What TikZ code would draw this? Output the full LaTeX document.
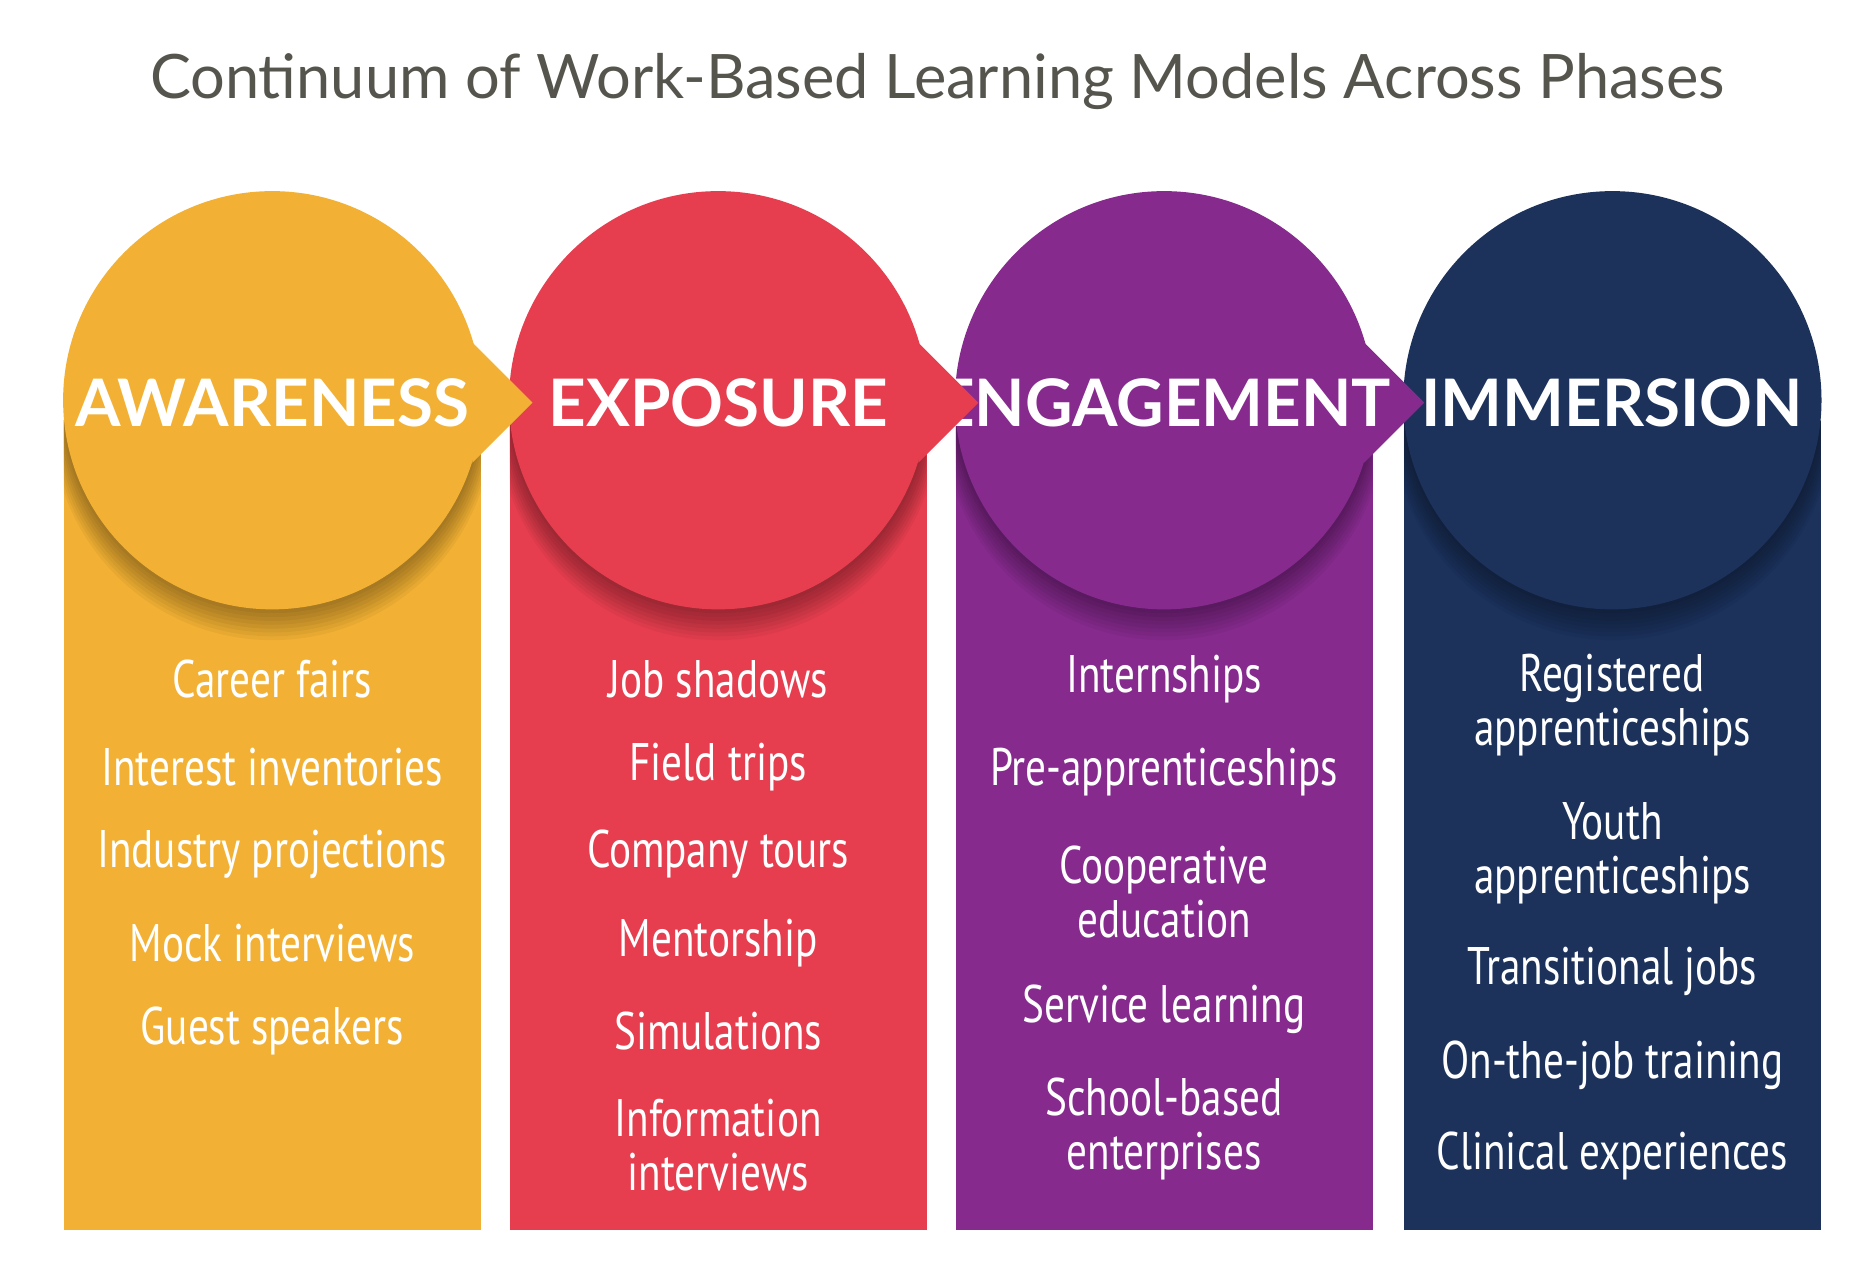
\documentclass[tikz,border=0pt]{standalone}
\usepackage{fontspec}
\setmainfont{Lato}
\newfontfamily\itemfont{PT Sans}
\definecolor{cA}{HTML}{F2B134}
\definecolor{cB}{HTML}{E63E4F}
\definecolor{cC}{HTML}{862A8E}
\definecolor{cD}{HTML}{1C325B}
\definecolor{titlec}{HTML}{55554D}
\newcommand{\narrow}[1]{\scalebox{0.78}[1]{#1}}
\tikzset{
  head/.style={text=white,font=\bfseries\fontsize{15.5}{18}\selectfont},
  itm/.style={text=white,font=\itemfont\fontsize{12.5}{12.8}\selectfont,align=center},
}
\begin{document}
\begin{tikzpicture}[x=0.01cm,y=-0.01cm]
\useasboundingbox (0,0) rectangle (1560,1061);
\node[font=\fontsize{14.5}{17}\selectfont,text=titlec] (title) at (780,68) {Continuum of Work-Based Learning Models Across Phases};
\foreach \lx/\col/\name/\lab/\arr in {1168/cD/d/IMMERSION/0,795/cC/c/ENGAGEMENT/1,424/cB/b/EXPOSURE/1,53/cA/a/AWARENESS/1}{
  \pgfmathsetmacro{\cx}{\lx+173.5}
  \fill[\col] (\lx,350) rectangle (\lx+347,1023);
  \begin{scope}
    \clip (\lx,350) rectangle (\lx+347,1023);
    \foreach \k in {1,...,8}{
      \fill[black,opacity=0.045] (\cx,333+\k*2) circle ({174+\k*1.2});
    }
  \end{scope}
  \ifnum\arr=1
    \fill[\col] (\lx+340,285) -- (\lx+390,335) -- (\lx+340,385) -- cycle;
  \fi
  \fill[\col] (\cx,333) circle (174);
  \node[head] (h\name) at (\cx,335) {\lab};
}
% column a
\foreach \y/\t [count=\i] in {565/Career fairs,638/Interest inventories,711/Industry projections,785/Mock interviews,858/Guest speakers}
  \node[itm] (a\i) at (226.5,\y) {\narrow{\t}};
% column b
\foreach \y/\t [count=\i] in {565/Job shadows,638/Field trips,711/Company tours,785/Mentorship,858/Simulations}
  \node[itm] (b\i) at (597.5,\y) {\narrow{\t}};
\node[itm] (b6) at (597.5,953) {\narrow{Information}\\\narrow{interviews}};
% column c
\node[itm] (c1) at (968.5,565) {\narrow{Internships}};
\node[itm] (c2) at (968.5,642) {\narrow{Pre-apprenticeships}};
\node[itm] (c3) at (968.5,742) {\narrow{Cooperative}\\\narrow{education}};
\node[itm] (c4) at (968.5,840) {\narrow{Service learning}};
\node[itm] (c5) at (968.5,939) {\narrow{School-based}\\\narrow{enterprises}};
% column d
\node[itm] (d1) at (1341.5,587) {\narrow{Registered}\\\narrow{apprenticeships}};
\node[itm] (d2) at (1341.5,710) {\narrow{Youth}\\\narrow{apprenticeships}};
\node[itm] (d3) at (1341.5,808) {\narrow{Transitional jobs}};
\node[itm] (d4) at (1341.5,886) {\narrow{On-the-job training}};
\node[itm] (d5) at (1341.5,962) {\narrow{Clinical experiences}};
\end{tikzpicture}
\end{document}
